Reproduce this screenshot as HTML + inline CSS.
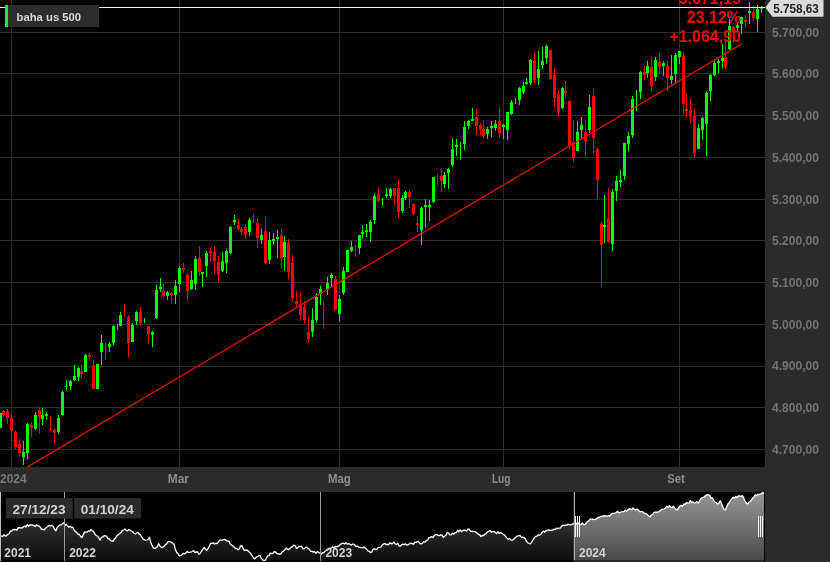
<!DOCTYPE html>
<html lang="it"><head><meta charset="utf-8"><title>baha us 500</title>
<style>html,body{margin:0;padding:0;background:#000;}body{width:830px;height:562px;overflow:hidden;font-family:"Liberation Sans",sans-serif;}svg{display:block;will-change:transform}text{font-family:"Liberation Sans",sans-serif;font-weight:bold}</style>
</head><body>
<svg width="830" height="562" viewBox="0 0 830 562">
<defs>
<linearGradient id="gsel" x1="0" y1="0" x2="0" y2="1"><stop offset="0" stop-color="#969696"/><stop offset="1" stop-color="#484848"/></linearGradient>
<linearGradient id="guns" x1="0" y1="0" x2="0" y2="1"><stop offset="0" stop-color="#4a4a4a"/><stop offset="1" stop-color="#0c0c0c"/></linearGradient>
<clipPath id="cpsel"><rect x="575" y="492" width="189.2" height="68.6"/></clipPath>
<clipPath id="cpuns"><rect x="0" y="492" width="575" height="68.6"/></clipPath>
<clipPath id="cpchart"><rect x="0" y="0" width="765" height="467"/></clipPath>
</defs>
<rect x="0" y="0" width="830" height="562" fill="#000"/>
<g shape-rendering="crispEdges" fill="#2e2e2e">
<rect x="0" y="449" width="765" height="1"/>
<rect x="0" y="407" width="765" height="1"/>
<rect x="0" y="366" width="765" height="1"/>
<rect x="0" y="324" width="765" height="1"/>
<rect x="0" y="282" width="765" height="1"/>
<rect x="0" y="240" width="765" height="1"/>
<rect x="0" y="199" width="765" height="1"/>
<rect x="0" y="157" width="765" height="1"/>
<rect x="0" y="115" width="765" height="1"/>
<rect x="0" y="73" width="765" height="1"/>
<rect x="0" y="32" width="765" height="1"/>
<rect x="11" y="0" width="1" height="467"/>
<rect x="179" y="0" width="1" height="467"/>
<rect x="339" y="0" width="1" height="467"/>
<rect x="503" y="0" width="1" height="467"/>
<rect x="679" y="0" width="1" height="467"/>
</g>
<g shape-rendering="crispEdges" clip-path="url(#cpchart)">
<rect x="0" y="413" width="1" height="15" fill="#00ff00"/>
<rect x="-1" y="413" width="3" height="15" fill="#00ff00"/>
<rect x="3" y="410" width="1" height="7" fill="#ff0000"/>
<rect x="2" y="411" width="3" height="4" fill="#ff0000"/>
<rect x="7" y="409" width="1" height="15" fill="#ff0000"/>
<rect x="6" y="411" width="3" height="7" fill="#ff0000"/>
<rect x="11" y="415" width="1" height="26" fill="#ff0000"/>
<rect x="10" y="418" width="3" height="13" fill="#ff0000"/>
<rect x="15" y="430" width="1" height="19" fill="#ff0000"/>
<rect x="14" y="432" width="3" height="15" fill="#ff0000"/>
<rect x="19" y="439" width="1" height="17" fill="#ff0000"/>
<rect x="18" y="444" width="3" height="9" fill="#ff0000"/>
<rect x="23" y="441" width="1" height="24" fill="#00ff00"/>
<rect x="22" y="452" width="3" height="5" fill="#00ff00"/>
<rect x="27" y="423" width="1" height="36" fill="#00ff00"/>
<rect x="26" y="424" width="3" height="29" fill="#00ff00"/>
<rect x="31" y="422" width="1" height="15" fill="#ff0000"/>
<rect x="30" y="425" width="3" height="3" fill="#ff0000"/>
<rect x="35" y="412" width="1" height="18" fill="#00ff00"/>
<rect x="34" y="415" width="3" height="14" fill="#00ff00"/>
<rect x="39" y="407" width="1" height="27" fill="#ff0000"/>
<rect x="38" y="410" width="3" height="7" fill="#ff0000"/>
<rect x="42" y="408" width="1" height="17" fill="#00ff00"/>
<rect x="41" y="415" width="3" height="4" fill="#00ff00"/>
<rect x="46" y="412" width="1" height="8" fill="#00ff00"/>
<rect x="45" y="414" width="3" height="2" fill="#00ff00"/>
<rect x="50" y="416" width="1" height="15" fill="#ff0000"/>
<rect x="54" y="428" width="1" height="16" fill="#ff0000"/>
<rect x="53" y="430" width="3" height="3" fill="#ff0000"/>
<rect x="58" y="415" width="1" height="19" fill="#00ff00"/>
<rect x="57" y="418" width="3" height="14" fill="#00ff00"/>
<rect x="62" y="391" width="1" height="25" fill="#00ff00"/>
<rect x="61" y="392" width="3" height="23" fill="#00ff00"/>
<rect x="66" y="380" width="1" height="10" fill="#00ff00"/>
<rect x="65" y="386" width="3" height="1" fill="#00ff00" opacity="0.6"/>
<rect x="70" y="380" width="1" height="10" fill="#00ff00"/>
<rect x="69" y="381" width="3" height="5" fill="#00ff00"/>
<rect x="74" y="365" width="1" height="16" fill="#00ff00"/>
<rect x="73" y="376" width="3" height="4" fill="#00ff00"/>
<rect x="78" y="367" width="1" height="14" fill="#00ff00"/>
<rect x="77" y="368" width="3" height="9" fill="#00ff00"/>
<rect x="81" y="364" width="1" height="14" fill="#ff0000"/>
<rect x="80" y="372" width="3" height="2" fill="#ff0000"/>
<rect x="85" y="354" width="1" height="18" fill="#00ff00"/>
<rect x="84" y="355" width="3" height="17" fill="#00ff00"/>
<rect x="89" y="353" width="1" height="8" fill="#ff0000"/>
<rect x="88" y="355" width="3" height="2" fill="#ff0000"/>
<rect x="93" y="360" width="1" height="29" fill="#ff0000"/>
<rect x="92" y="365" width="3" height="24" fill="#ff0000"/>
<rect x="97" y="364" width="1" height="25" fill="#00ff00"/>
<rect x="96" y="364" width="3" height="25" fill="#00ff00"/>
<rect x="101" y="335" width="1" height="30" fill="#00ff00"/>
<rect x="100" y="343" width="3" height="9" fill="#00ff00"/>
<rect x="105" y="343" width="1" height="17" fill="#ff0000"/>
<rect x="104" y="348" width="3" height="1" fill="#ff0000" opacity="0.6"/>
<rect x="109" y="342" width="1" height="10" fill="#00ff00"/>
<rect x="108" y="344" width="3" height="3" fill="#00ff00"/>
<rect x="113" y="325" width="1" height="20" fill="#00ff00"/>
<rect x="112" y="326" width="3" height="17" fill="#00ff00"/>
<rect x="117" y="324" width="1" height="6" fill="#00ff00"/>
<rect x="120" y="312" width="1" height="14" fill="#00ff00"/>
<rect x="119" y="315" width="3" height="11" fill="#00ff00"/>
<rect x="124" y="304" width="1" height="13" fill="#ff0000"/>
<rect x="128" y="315" width="1" height="42" fill="#ff0000"/>
<rect x="127" y="317" width="3" height="26" fill="#ff0000"/>
<rect x="132" y="323" width="1" height="19" fill="#00ff00"/>
<rect x="131" y="325" width="3" height="17" fill="#00ff00"/>
<rect x="136" y="311" width="1" height="14" fill="#00ff00"/>
<rect x="135" y="312" width="3" height="9" fill="#00ff00"/>
<rect x="140" y="307" width="1" height="19" fill="#ff0000"/>
<rect x="139" y="312" width="3" height="11" fill="#ff0000"/>
<rect x="144" y="318" width="1" height="5" fill="#00ff00"/>
<rect x="148" y="326" width="1" height="17" fill="#ff0000"/>
<rect x="147" y="326" width="3" height="8" fill="#ff0000"/>
<rect x="152" y="331" width="1" height="16" fill="#00ff00"/>
<rect x="151" y="332" width="3" height="3" fill="#00ff00"/>
<rect x="156" y="285" width="1" height="34" fill="#00ff00"/>
<rect x="155" y="290" width="3" height="28" fill="#00ff00"/>
<rect x="160" y="278" width="1" height="14" fill="#00ff00"/>
<rect x="159" y="287" width="3" height="2" fill="#00ff00"/>
<rect x="163" y="284" width="1" height="13" fill="#ff0000"/>
<rect x="162" y="291" width="3" height="5" fill="#ff0000"/>
<rect x="167" y="291" width="1" height="9" fill="#00ff00"/>
<rect x="166" y="292" width="3" height="4" fill="#00ff00"/>
<rect x="171" y="292" width="1" height="11" fill="#ff0000"/>
<rect x="170" y="293" width="3" height="2" fill="#ff0000"/>
<rect x="175" y="280" width="1" height="24" fill="#00ff00"/>
<rect x="174" y="286" width="3" height="9" fill="#00ff00"/>
<rect x="179" y="266" width="1" height="26" fill="#00ff00"/>
<rect x="178" y="268" width="3" height="16" fill="#00ff00"/>
<rect x="183" y="263" width="1" height="10" fill="#ff0000"/>
<rect x="182" y="268" width="3" height="2" fill="#ff0000"/>
<rect x="187" y="273" width="1" height="28" fill="#ff0000"/>
<rect x="186" y="275" width="3" height="16" fill="#ff0000"/>
<rect x="191" y="271" width="1" height="19" fill="#00ff00"/>
<rect x="190" y="280" width="3" height="9" fill="#00ff00"/>
<rect x="195" y="256" width="1" height="34" fill="#00ff00"/>
<rect x="194" y="259" width="3" height="25" fill="#00ff00"/>
<rect x="199" y="246" width="1" height="30" fill="#ff0000"/>
<rect x="198" y="258" width="3" height="14" fill="#ff0000"/>
<rect x="202" y="272" width="1" height="15" fill="#00ff00"/>
<rect x="201" y="272" width="3" height="2" fill="#00ff00"/>
<rect x="206" y="251" width="1" height="26" fill="#00ff00"/>
<rect x="205" y="253" width="3" height="13" fill="#00ff00"/>
<rect x="210" y="248" width="1" height="14" fill="#ff0000"/>
<rect x="209" y="251" width="3" height="2" fill="#ff0000"/>
<rect x="214" y="246" width="1" height="28" fill="#ff0000"/>
<rect x="213" y="252" width="3" height="9" fill="#ff0000"/>
<rect x="218" y="256" width="1" height="26" fill="#ff0000"/>
<rect x="217" y="262" width="3" height="13" fill="#ff0000"/>
<rect x="222" y="252" width="1" height="20" fill="#00ff00"/>
<rect x="221" y="261" width="3" height="10" fill="#00ff00"/>
<rect x="226" y="249" width="1" height="24" fill="#00ff00"/>
<rect x="225" y="251" width="3" height="12" fill="#00ff00"/>
<rect x="230" y="226" width="1" height="28" fill="#00ff00"/>
<rect x="229" y="227" width="3" height="26" fill="#00ff00"/>
<rect x="234" y="215" width="1" height="10" fill="#00ff00"/>
<rect x="233" y="220" width="3" height="2" fill="#00ff00"/>
<rect x="238" y="219" width="1" height="11" fill="#ff0000"/>
<rect x="237" y="225" width="3" height="4" fill="#ff0000"/>
<rect x="241" y="227" width="1" height="9" fill="#ff0000"/>
<rect x="240" y="229" width="3" height="3" fill="#ff0000"/>
<rect x="245" y="224" width="1" height="15" fill="#ff0000"/>
<rect x="244" y="227" width="3" height="8" fill="#ff0000"/>
<rect x="249" y="218" width="1" height="18" fill="#00ff00"/>
<rect x="248" y="220" width="3" height="12" fill="#00ff00"/>
<rect x="253" y="214" width="1" height="9" fill="#ff0000"/>
<rect x="257" y="218" width="1" height="30" fill="#ff0000"/>
<rect x="256" y="223" width="3" height="15" fill="#ff0000"/>
<rect x="261" y="229" width="1" height="15" fill="#00ff00"/>
<rect x="260" y="235" width="3" height="5" fill="#00ff00"/>
<rect x="265" y="217" width="1" height="47" fill="#ff0000"/>
<rect x="264" y="231" width="3" height="32" fill="#ff0000"/>
<rect x="269" y="232" width="1" height="32" fill="#00ff00"/>
<rect x="268" y="240" width="3" height="20" fill="#00ff00"/>
<rect x="273" y="233" width="1" height="12" fill="#00ff00"/>
<rect x="272" y="239" width="3" height="2" fill="#00ff00"/>
<rect x="277" y="230" width="1" height="28" fill="#00ff00"/>
<rect x="276" y="237" width="3" height="2" fill="#00ff00"/>
<rect x="281" y="229" width="1" height="40" fill="#ff0000"/>
<rect x="280" y="235" width="3" height="23" fill="#ff0000"/>
<rect x="284" y="236" width="1" height="35" fill="#00ff00"/>
<rect x="283" y="242" width="3" height="15" fill="#00ff00"/>
<rect x="288" y="239" width="1" height="40" fill="#ff0000"/>
<rect x="287" y="243" width="3" height="29" fill="#ff0000"/>
<rect x="292" y="255" width="1" height="47" fill="#ff0000"/>
<rect x="291" y="263" width="3" height="35" fill="#ff0000"/>
<rect x="296" y="291" width="1" height="16" fill="#ff0000"/>
<rect x="295" y="301" width="3" height="3" fill="#ff0000"/>
<rect x="300" y="292" width="1" height="29" fill="#ff0000"/>
<rect x="299" y="304" width="3" height="11" fill="#ff0000"/>
<rect x="304" y="301" width="1" height="23" fill="#ff0000"/>
<rect x="303" y="307" width="3" height="13" fill="#ff0000"/>
<rect x="308" y="316" width="1" height="27" fill="#ff0000"/>
<rect x="307" y="332" width="3" height="7" fill="#ff0000"/>
<rect x="312" y="308" width="1" height="29" fill="#00ff00"/>
<rect x="311" y="320" width="3" height="12" fill="#00ff00"/>
<rect x="316" y="293" width="1" height="30" fill="#00ff00"/>
<rect x="315" y="297" width="3" height="23" fill="#00ff00"/>
<rect x="320" y="286" width="1" height="19" fill="#00ff00"/>
<rect x="319" y="289" width="3" height="5" fill="#00ff00"/>
<rect x="323" y="301" width="1" height="28" fill="#ff0000"/>
<rect x="327" y="277" width="1" height="18" fill="#00ff00"/>
<rect x="326" y="283" width="3" height="7" fill="#00ff00"/>
<rect x="331" y="273" width="1" height="14" fill="#00ff00"/>
<rect x="330" y="275" width="3" height="3" fill="#00ff00"/>
<rect x="335" y="276" width="1" height="34" fill="#ff0000"/>
<rect x="334" y="279" width="3" height="31" fill="#ff0000"/>
<rect x="339" y="295" width="1" height="26" fill="#00ff00"/>
<rect x="338" y="299" width="3" height="15" fill="#00ff00"/>
<rect x="343" y="267" width="1" height="28" fill="#00ff00"/>
<rect x="342" y="271" width="3" height="22" fill="#00ff00"/>
<rect x="347" y="250" width="1" height="22" fill="#00ff00"/>
<rect x="346" y="250" width="3" height="22" fill="#00ff00"/>
<rect x="351" y="241" width="1" height="11" fill="#00ff00"/>
<rect x="350" y="247" width="3" height="4" fill="#00ff00"/>
<rect x="355" y="245" width="1" height="12" fill="#ff0000"/>
<rect x="359" y="235" width="1" height="19" fill="#00ff00"/>
<rect x="358" y="235" width="3" height="13" fill="#00ff00"/>
<rect x="362" y="225" width="1" height="13" fill="#00ff00"/>
<rect x="361" y="232" width="3" height="2" fill="#00ff00"/>
<rect x="366" y="224" width="1" height="13" fill="#00ff00"/>
<rect x="365" y="230" width="3" height="2" fill="#00ff00"/>
<rect x="370" y="220" width="1" height="22" fill="#00ff00"/>
<rect x="369" y="222" width="3" height="10" fill="#00ff00"/>
<rect x="374" y="194" width="1" height="30" fill="#00ff00"/>
<rect x="373" y="196" width="3" height="24" fill="#00ff00"/>
<rect x="378" y="189" width="1" height="13" fill="#ff0000"/>
<rect x="377" y="194" width="3" height="7" fill="#ff0000"/>
<rect x="382" y="198" width="1" height="8" fill="#00ff00"/>
<rect x="381" y="199" width="3" height="1" fill="#00ff00" opacity="0.6"/>
<rect x="386" y="188" width="1" height="10" fill="#00ff00"/>
<rect x="385" y="194" width="3" height="2" fill="#00ff00"/>
<rect x="390" y="188" width="1" height="10" fill="#00ff00"/>
<rect x="389" y="189" width="3" height="7" fill="#00ff00"/>
<rect x="394" y="188" width="1" height="18" fill="#ff0000"/>
<rect x="393" y="188" width="3" height="8" fill="#ff0000"/>
<rect x="398" y="179" width="1" height="39" fill="#ff0000"/>
<rect x="397" y="188" width="3" height="24" fill="#ff0000"/>
<rect x="402" y="195" width="1" height="18" fill="#00ff00"/>
<rect x="401" y="198" width="3" height="13" fill="#00ff00"/>
<rect x="405" y="191" width="1" height="9" fill="#00ff00"/>
<rect x="404" y="192" width="3" height="6" fill="#00ff00"/>
<rect x="409" y="190" width="1" height="18" fill="#ff0000"/>
<rect x="408" y="192" width="3" height="5" fill="#ff0000"/>
<rect x="413" y="203" width="1" height="12" fill="#ff0000"/>
<rect x="412" y="204" width="3" height="10" fill="#ff0000"/>
<rect x="417" y="216" width="1" height="16" fill="#ff0000"/>
<rect x="416" y="223" width="3" height="2" fill="#ff0000"/>
<rect x="421" y="207" width="1" height="38" fill="#00ff00"/>
<rect x="420" y="208" width="3" height="22" fill="#00ff00"/>
<rect x="425" y="199" width="1" height="29" fill="#00ff00"/>
<rect x="424" y="205" width="3" height="2" fill="#00ff00"/>
<rect x="429" y="200" width="1" height="21" fill="#00ff00"/>
<rect x="428" y="205" width="3" height="2" fill="#00ff00"/>
<rect x="433" y="177" width="1" height="26" fill="#00ff00"/>
<rect x="432" y="177" width="3" height="25" fill="#00ff00"/>
<rect x="437" y="174" width="1" height="11" fill="#ff0000"/>
<rect x="441" y="168" width="1" height="24" fill="#ff0000"/>
<rect x="440" y="176" width="3" height="5" fill="#ff0000"/>
<rect x="444" y="172" width="1" height="16" fill="#00ff00"/>
<rect x="443" y="175" width="3" height="9" fill="#00ff00"/>
<rect x="448" y="168" width="1" height="21" fill="#00ff00"/>
<rect x="447" y="169" width="3" height="4" fill="#00ff00"/>
<rect x="452" y="138" width="1" height="29" fill="#00ff00"/>
<rect x="451" y="149" width="3" height="16" fill="#00ff00"/>
<rect x="456" y="139" width="1" height="17" fill="#00ff00"/>
<rect x="455" y="145" width="3" height="2" fill="#00ff00"/>
<rect x="460" y="142" width="1" height="18" fill="#00ff00"/>
<rect x="464" y="121" width="1" height="29" fill="#00ff00"/>
<rect x="463" y="127" width="3" height="17" fill="#00ff00"/>
<rect x="468" y="120" width="1" height="9" fill="#00ff00"/>
<rect x="467" y="121" width="3" height="5" fill="#00ff00"/>
<rect x="472" y="108" width="1" height="13" fill="#00ff00"/>
<rect x="471" y="119" width="3" height="2" fill="#00ff00"/>
<rect x="476" y="109" width="1" height="26" fill="#ff0000"/>
<rect x="475" y="117" width="3" height="9" fill="#ff0000"/>
<rect x="480" y="123" width="1" height="12" fill="#ff0000"/>
<rect x="479" y="125" width="3" height="4" fill="#ff0000"/>
<rect x="483" y="120" width="1" height="18" fill="#ff0000"/>
<rect x="482" y="129" width="3" height="7" fill="#ff0000"/>
<rect x="487" y="127" width="1" height="12" fill="#00ff00"/>
<rect x="486" y="129" width="3" height="5" fill="#00ff00"/>
<rect x="491" y="121" width="1" height="16" fill="#00ff00"/>
<rect x="490" y="126" width="3" height="2" fill="#00ff00"/>
<rect x="495" y="120" width="1" height="11" fill="#00ff00"/>
<rect x="494" y="124" width="3" height="4" fill="#00ff00"/>
<rect x="499" y="107" width="1" height="31" fill="#ff0000"/>
<rect x="498" y="121" width="3" height="12" fill="#ff0000"/>
<rect x="503" y="124" width="1" height="15" fill="#00ff00"/>
<rect x="502" y="125" width="3" height="2" fill="#00ff00"/>
<rect x="507" y="112" width="1" height="28" fill="#00ff00"/>
<rect x="506" y="112" width="3" height="18" fill="#00ff00"/>
<rect x="511" y="100" width="1" height="15" fill="#00ff00"/>
<rect x="510" y="102" width="3" height="12" fill="#00ff00"/>
<rect x="515" y="98" width="1" height="6" fill="#00ff00"/>
<rect x="519" y="87" width="1" height="18" fill="#00ff00"/>
<rect x="518" y="88" width="3" height="12" fill="#00ff00"/>
<rect x="523" y="82" width="1" height="12" fill="#00ff00"/>
<rect x="522" y="86" width="3" height="6" fill="#00ff00"/>
<rect x="526" y="78" width="1" height="7" fill="#00ff00"/>
<rect x="525" y="82" width="3" height="2" fill="#00ff00"/>
<rect x="530" y="59" width="1" height="26" fill="#00ff00"/>
<rect x="529" y="60" width="3" height="23" fill="#00ff00"/>
<rect x="534" y="52" width="1" height="31" fill="#ff0000"/>
<rect x="533" y="61" width="3" height="19" fill="#ff0000"/>
<rect x="538" y="51" width="1" height="34" fill="#00ff00"/>
<rect x="537" y="69" width="3" height="9" fill="#00ff00"/>
<rect x="542" y="47" width="1" height="22" fill="#00ff00"/>
<rect x="541" y="61" width="3" height="4" fill="#00ff00"/>
<rect x="546" y="45" width="1" height="19" fill="#00ff00"/>
<rect x="545" y="46" width="3" height="12" fill="#00ff00"/>
<rect x="550" y="50" width="1" height="30" fill="#ff0000"/>
<rect x="549" y="50" width="3" height="29" fill="#ff0000"/>
<rect x="554" y="68" width="1" height="39" fill="#ff0000"/>
<rect x="553" y="75" width="3" height="23" fill="#ff0000"/>
<rect x="558" y="90" width="1" height="27" fill="#ff0000"/>
<rect x="557" y="94" width="3" height="18" fill="#ff0000"/>
<rect x="562" y="87" width="1" height="22" fill="#00ff00"/>
<rect x="561" y="88" width="3" height="20" fill="#00ff00"/>
<rect x="565" y="81" width="1" height="17" fill="#ff0000"/>
<rect x="564" y="91" width="3" height="2" fill="#ff0000"/>
<rect x="569" y="101" width="1" height="48" fill="#ff0000"/>
<rect x="568" y="101" width="3" height="45" fill="#ff0000"/>
<rect x="573" y="120" width="1" height="42" fill="#ff0000"/>
<rect x="572" y="143" width="3" height="15" fill="#ff0000"/>
<rect x="577" y="121" width="1" height="30" fill="#00ff00"/>
<rect x="576" y="132" width="3" height="19" fill="#00ff00"/>
<rect x="581" y="117" width="1" height="21" fill="#00ff00"/>
<rect x="580" y="125" width="3" height="5" fill="#00ff00"/>
<rect x="585" y="120" width="1" height="37" fill="#ff0000"/>
<rect x="584" y="132" width="3" height="10" fill="#ff0000"/>
<rect x="589" y="95" width="1" height="38" fill="#00ff00"/>
<rect x="588" y="107" width="3" height="23" fill="#00ff00"/>
<rect x="593" y="89" width="1" height="65" fill="#ff0000"/>
<rect x="592" y="96" width="3" height="42" fill="#ff0000"/>
<rect x="597" y="148" width="1" height="51" fill="#ff0000"/>
<rect x="596" y="149" width="3" height="31" fill="#ff0000"/>
<rect x="601" y="222" width="1" height="65" fill="#ff0000"/>
<rect x="600" y="224" width="3" height="21" fill="#ff0000"/>
<rect x="604" y="195" width="1" height="48" fill="#00ff00"/>
<rect x="603" y="225" width="3" height="2" fill="#00ff00"/>
<rect x="608" y="188" width="1" height="55" fill="#ff0000"/>
<rect x="607" y="218" width="3" height="24" fill="#ff0000"/>
<rect x="612" y="189" width="1" height="62" fill="#00ff00"/>
<rect x="611" y="192" width="3" height="52" fill="#00ff00"/>
<rect x="616" y="176" width="1" height="25" fill="#00ff00"/>
<rect x="615" y="181" width="3" height="10" fill="#00ff00"/>
<rect x="620" y="170" width="1" height="17" fill="#00ff00"/>
<rect x="619" y="180" width="3" height="2" fill="#00ff00"/>
<rect x="624" y="143" width="1" height="37" fill="#00ff00"/>
<rect x="623" y="143" width="3" height="33" fill="#00ff00"/>
<rect x="628" y="132" width="1" height="19" fill="#00ff00"/>
<rect x="627" y="136" width="3" height="8" fill="#00ff00"/>
<rect x="632" y="96" width="1" height="42" fill="#00ff00"/>
<rect x="631" y="99" width="3" height="36" fill="#00ff00"/>
<rect x="636" y="90" width="1" height="21" fill="#00ff00"/>
<rect x="640" y="71" width="1" height="28" fill="#00ff00"/>
<rect x="639" y="72" width="3" height="20" fill="#00ff00"/>
<rect x="644" y="66" width="1" height="14" fill="#ff0000"/>
<rect x="643" y="72" width="3" height="3" fill="#ff0000"/>
<rect x="647" y="61" width="1" height="17" fill="#00ff00"/>
<rect x="646" y="66" width="3" height="7" fill="#00ff00"/>
<rect x="651" y="57" width="1" height="34" fill="#ff0000"/>
<rect x="650" y="67" width="3" height="19" fill="#ff0000"/>
<rect x="655" y="57" width="1" height="24" fill="#00ff00"/>
<rect x="654" y="60" width="3" height="17" fill="#00ff00"/>
<rect x="659" y="53" width="1" height="21" fill="#ff0000"/>
<rect x="658" y="62" width="3" height="5" fill="#ff0000"/>
<rect x="663" y="61" width="1" height="15" fill="#00ff00"/>
<rect x="662" y="63" width="3" height="3" fill="#00ff00"/>
<rect x="667" y="61" width="1" height="30" fill="#ff0000"/>
<rect x="666" y="66" width="3" height="12" fill="#ff0000"/>
<rect x="671" y="55" width="1" height="29" fill="#00ff00"/>
<rect x="670" y="76" width="3" height="4" fill="#00ff00"/>
<rect x="675" y="53" width="1" height="30" fill="#00ff00"/>
<rect x="674" y="55" width="3" height="19" fill="#00ff00"/>
<rect x="679" y="51" width="1" height="13" fill="#00ff00"/>
<rect x="678" y="51" width="3" height="6" fill="#00ff00"/>
<rect x="683" y="52" width="1" height="62" fill="#ff0000"/>
<rect x="682" y="56" width="3" height="48" fill="#ff0000"/>
<rect x="686" y="94" width="1" height="24" fill="#ff0000"/>
<rect x="685" y="109" width="3" height="2" fill="#ff0000"/>
<rect x="690" y="98" width="1" height="26" fill="#ff0000"/>
<rect x="689" y="110" width="3" height="5" fill="#ff0000"/>
<rect x="694" y="108" width="1" height="49" fill="#ff0000"/>
<rect x="693" y="116" width="3" height="37" fill="#ff0000"/>
<rect x="698" y="124" width="1" height="25" fill="#00ff00"/>
<rect x="697" y="128" width="3" height="21" fill="#00ff00"/>
<rect x="702" y="117" width="1" height="23" fill="#00ff00"/>
<rect x="701" y="118" width="3" height="12" fill="#00ff00"/>
<rect x="706" y="91" width="1" height="65" fill="#00ff00"/>
<rect x="705" y="93" width="3" height="31" fill="#00ff00"/>
<rect x="710" y="74" width="1" height="27" fill="#00ff00"/>
<rect x="709" y="75" width="3" height="16" fill="#00ff00"/>
<rect x="714" y="60" width="1" height="16" fill="#00ff00"/>
<rect x="713" y="63" width="3" height="12" fill="#00ff00"/>
<rect x="718" y="59" width="1" height="14" fill="#00ff00"/>
<rect x="717" y="61" width="3" height="2" fill="#00ff00"/>
<rect x="722" y="44" width="1" height="24" fill="#00ff00"/>
<rect x="721" y="58" width="3" height="3" fill="#00ff00"/>
<rect x="725" y="40" width="1" height="29" fill="#ff0000"/>
<rect x="724" y="57" width="3" height="10" fill="#ff0000"/>
<rect x="729" y="19" width="1" height="31" fill="#00ff00"/>
<rect x="728" y="26" width="3" height="23" fill="#00ff00"/>
<rect x="733" y="26" width="1" height="17" fill="#ff0000"/>
<rect x="732" y="27" width="3" height="5" fill="#ff0000"/>
<rect x="737" y="23" width="1" height="9" fill="#00ff00"/>
<rect x="736" y="25" width="3" height="3" fill="#00ff00"/>
<rect x="741" y="17" width="1" height="17" fill="#00ff00"/>
<rect x="740" y="17" width="3" height="7" fill="#00ff00"/>
<rect x="745" y="15" width="1" height="12" fill="#ff0000"/>
<rect x="744" y="20" width="3" height="2" fill="#ff0000"/>
<rect x="749" y="2" width="1" height="22" fill="#00ff00"/>
<rect x="748" y="11" width="3" height="2" fill="#00ff00"/>
<rect x="753" y="6" width="1" height="15" fill="#ff0000"/>
<rect x="752" y="12" width="3" height="6" fill="#ff0000"/>
<rect x="757" y="5" width="1" height="27" fill="#00ff00"/>
<rect x="756" y="9" width="3" height="10" fill="#00ff00"/>
<rect x="761" y="6" width="1" height="7" fill="#00ff00"/>
<rect x="760" y="8" width="3" height="1" fill="#00ff00" opacity="0.6"/>
</g>
<line x1="27.4" y1="467" x2="741.6" y2="44" stroke="#ff0000" stroke-width="1.2" clip-path="url(#cpchart)"/>
<g fill="#ff0000" font-size="16px" text-anchor="end">
<text x="741" y="3.7">5.671,15</text>
<text x="741" y="22.9">23,12%</text>
<text x="741" y="42.3">+1.064,90</text>
</g>
<rect x="0" y="7" width="765" height="1" fill="#f2f2f2" shape-rendering="crispEdges"/>
<rect x="5" y="5" width="94" height="22" fill="#2d2d2d" shape-rendering="crispEdges"/>
<rect x="5" y="5" width="3" height="22" fill="#00ff00" shape-rendering="crispEdges"/>
<text x="16.6" y="20.9" font-size="11.6px" fill="#d6d6d6" textLength="64.5" lengthAdjust="spacingAndGlyphs">baha us 500</text>
<rect x="765" y="0" width="65" height="562" fill="#2b2b2b" shape-rendering="crispEdges"/>
<g font-size="12px" fill="#737373">
<text x="772" y="36.6" textLength="47" lengthAdjust="spacingAndGlyphs">5.700,00</text>
<text x="772" y="78.3" textLength="47" lengthAdjust="spacingAndGlyphs">5.600,00</text>
<text x="772" y="120.1" textLength="47" lengthAdjust="spacingAndGlyphs">5.500,00</text>
<text x="772" y="161.8" textLength="47" lengthAdjust="spacingAndGlyphs">5.400,00</text>
<text x="772" y="203.5" textLength="47" lengthAdjust="spacingAndGlyphs">5.300,00</text>
<text x="772" y="245.2" textLength="47" lengthAdjust="spacingAndGlyphs">5.200,00</text>
<text x="772" y="287.0" textLength="47" lengthAdjust="spacingAndGlyphs">5.100,00</text>
<text x="772" y="328.7" textLength="47" lengthAdjust="spacingAndGlyphs">5.000,00</text>
<text x="772" y="370.4" textLength="47" lengthAdjust="spacingAndGlyphs">4.900,00</text>
<text x="772" y="412.2" textLength="47" lengthAdjust="spacingAndGlyphs">4.800,00</text>
<text x="772" y="453.9" textLength="47" lengthAdjust="spacingAndGlyphs">4.700,00</text>
</g>
<polygon points="765.3,7.5 772.5,-2 823.5,-2 823.5,16.8 772.5,16.8" fill="#dadada"/>
<text x="773.3" y="12.9" font-size="12px" fill="#1e1e1e" textLength="45.5" lengthAdjust="spacingAndGlyphs">5.758,63</text>
<rect x="0" y="467" width="765" height="25" fill="#2b2b2b" shape-rendering="crispEdges"/>
<g font-size="12px" fill="#8e8e8e">
<text x="0" y="482.7" fill="#787878">2024</text>
<text x="167.8" y="482.7" textLength="21.2" lengthAdjust="spacingAndGlyphs">Mar</text>
<text x="327.9" y="482.7" textLength="22.9" lengthAdjust="spacingAndGlyphs">Mag</text>
<text x="491.9" y="482.7" textLength="18.6" lengthAdjust="spacingAndGlyphs">Lug</text>
<text x="667.2" y="482.7" textLength="17.5" lengthAdjust="spacingAndGlyphs">Set</text>
</g>
<path d="M0.0,537.0 L1.3,536.0 L2.6,536.5 L3.9,534.8 L5.2,536.0 L6.5,535.8 L7.8,534.4 L9.1,533.7 L10.4,530.9 L11.7,531.0 L13.0,529.7 L14.3,529.3 L15.6,529.7 L16.9,530.2 L18.2,527.9 L19.5,527.6 L20.8,527.9 L22.1,528.0 L23.4,526.7 L24.7,526.0 L26.0,527.0 L27.3,524.6 L28.6,526.2 L29.9,525.0 L31.2,524.9 L32.5,525.0 L33.8,525.6 L35.1,526.6 L36.4,524.9 L37.7,525.6 L39.0,526.1 L40.3,527.3 L41.6,529.3 L42.9,529.4 L44.2,529.9 L45.5,528.2 L46.8,527.3 L48.1,526.1 L49.4,525.5 L50.7,525.8 L52.0,525.4 L53.3,526.6 L54.6,529.3 L55.9,530.7 L57.2,527.6 L58.5,526.3 L59.8,524.9 L61.1,524.9 L62.4,523.8 L63.7,522.8 L65.0,525.4 L66.3,524.3 L67.6,525.9 L68.9,527.2 L70.2,526.3 L71.5,527.5 L72.8,527.2 L74.1,530.0 L75.4,531.5 L76.7,532.4 L78.0,534.4 L79.3,534.4 L80.6,536.5 L81.9,537.6 L83.2,534.9 L84.5,531.9 L85.8,532.1 L87.1,532.1 L88.4,530.9 L89.7,531.1 L91.0,529.5 L92.3,530.7 L93.6,531.6 L94.9,534.1 L96.2,535.5 L97.5,536.0 L98.8,537.9 L100.1,540.1 L101.4,537.3 L102.7,537.0 L104.0,535.6 L105.3,535.9 L106.6,536.2 L107.9,538.8 L109.2,538.8 L110.5,540.6 L111.8,540.8 L113.1,541.3 L114.4,538.9 L115.7,537.7 L117.0,535.7 L118.3,534.5 L119.6,533.5 L120.9,532.8 L122.2,530.6 L123.5,530.0 L124.8,529.0 L126.1,530.2 L127.4,530.9 L128.7,529.5 L130.0,530.1 L131.3,531.0 L132.6,531.8 L133.9,533.2 L135.2,534.0 L136.5,533.0 L137.8,532.3 L139.1,533.7 L140.4,535.0 L141.7,537.0 L143.0,539.1 L144.3,539.6 L145.6,540.4 L146.9,540.0 L148.2,539.3 L149.5,537.3 L150.8,542.5 L152.1,545.4 L153.4,548.0 L154.7,548.3 L156.0,547.8 L157.3,546.7 L158.6,543.7 L159.9,545.9 L161.2,547.1 L162.5,547.7 L163.8,546.6 L165.1,545.0 L166.4,544.1 L167.7,542.2 L169.0,541.2 L170.3,542.0 L171.6,542.3 L172.9,543.4 L174.2,544.6 L175.5,549.9 L176.8,552.6 L178.1,553.8 L179.4,556.0 L180.7,555.5 L182.0,554.7 L183.3,553.3 L184.6,553.8 L185.9,552.9 L187.2,551.4 L188.5,552.4 L189.8,552.4 L191.1,551.9 L192.4,551.5 L193.7,550.6 L195.0,552.6 L196.3,551.8 L197.6,552.0 L198.9,554.3 L200.2,553.5 L201.5,551.2 L202.8,549.4 L204.1,547.4 L205.4,549.0 L206.7,550.4 L208.0,548.6 L209.3,546.2 L210.6,543.3 L211.9,543.4 L213.2,542.8 L214.5,544.0 L215.8,543.2 L217.1,543.6 L218.4,541.8 L219.7,540.2 L221.0,540.1 L222.3,540.1 L223.6,539.6 L224.9,539.3 L226.2,540.4 L227.5,541.2 L228.8,541.1 L230.1,543.6 L231.4,545.0 L232.7,545.6 L234.0,547.0 L235.3,548.3 L236.6,548.5 L237.9,549.8 L239.2,549.1 L240.5,546.2 L241.8,545.6 L243.1,548.3 L244.4,550.5 L245.7,549.8 L247.0,550.1 L248.3,551.0 L249.6,552.4 L250.9,553.8 L252.2,556.0 L253.5,557.9 L254.8,558.9 L256.1,557.4 L257.4,556.6 L258.7,555.7 L260.0,555.6 L261.3,558.4 L262.6,559.8 L263.9,560.4 L265.2,560.3 L266.5,558.0 L267.8,555.7 L269.1,555.6 L270.4,553.1 L271.7,553.5 L273.0,553.4 L274.3,551.7 L275.6,552.0 L276.9,553.6 L278.2,554.0 L279.5,553.9 L280.8,554.0 L282.1,551.8 L283.4,551.3 L284.7,549.9 L286.0,548.0 L287.3,549.3 L288.6,549.5 L289.9,548.6 L291.2,547.1 L292.5,546.6 L293.8,545.1 L295.1,545.5 L296.4,548.4 L297.7,547.8 L299.0,546.5 L300.3,546.4 L301.6,546.3 L302.9,548.7 L304.2,548.9 L305.5,547.3 L306.8,547.2 L308.1,548.4 L309.4,549.5 L310.7,551.4 L312.0,551.2 L313.3,552.1 L314.6,551.7 L315.9,553.2 L317.2,551.7 L318.5,552.2 L319.8,553.0 L321.1,554.3 L322.4,552.6 L323.7,552.9 L325.0,551.1 L326.3,550.5 L327.6,549.9 L328.9,548.2 L330.2,548.7 L331.5,547.7 L332.8,546.9 L334.1,548.3 L335.4,546.4 L336.7,546.5 L338.0,546.5 L339.3,545.5 L340.6,544.1 L341.9,543.7 L343.2,543.1 L344.5,544.0 L345.8,542.8 L347.1,544.1 L348.4,543.7 L349.7,544.0 L351.0,545.1 L352.3,544.2 L353.6,544.1 L354.9,545.2 L356.2,546.4 L357.5,546.2 L358.8,547.1 L360.1,547.4 L361.4,547.7 L362.7,547.8 L364.0,546.9 L365.3,548.1 L366.6,549.0 L367.9,551.0 L369.2,551.3 L370.5,552.6 L371.8,551.9 L373.1,549.2 L374.4,548.8 L375.7,549.5 L377.0,549.1 L378.3,547.4 L379.6,547.3 L380.9,547.2 L382.2,545.0 L383.5,544.1 L384.8,543.4 L386.1,544.5 L387.4,544.5 L388.7,544.6 L390.0,542.7 L391.3,543.8 L392.6,543.5 L393.9,542.2 L395.2,544.0 L396.5,544.5 L397.8,543.2 L399.1,545.9 L400.4,546.0 L401.7,544.6 L403.0,544.1 L404.3,544.6 L405.6,543.9 L406.9,545.0 L408.2,544.7 L409.5,543.8 L410.8,543.2 L412.1,543.5 L413.4,544.4 L414.7,542.1 L416.0,542.5 L417.3,541.4 L418.6,541.6 L419.9,543.5 L421.2,543.8 L422.5,543.2 L423.8,541.5 L425.1,542.2 L426.4,540.4 L427.7,540.0 L429.0,537.6 L430.3,537.6 L431.6,536.5 L432.9,537.5 L434.2,535.7 L435.5,534.7 L436.8,534.6 L438.1,535.4 L439.4,535.7 L440.7,534.9 L442.0,535.1 L443.3,537.4 L444.6,536.2 L445.9,535.3 L447.2,532.6 L448.5,532.8 L449.8,534.8 L451.1,534.8 L452.4,533.1 L453.7,534.3 L455.0,532.8 L456.3,532.5 L457.6,530.3 L458.9,531.7 L460.2,529.9 L461.5,531.7 L462.8,530.6 L464.1,530.1 L465.4,530.3 L466.7,530.8 L468.0,528.9 L469.3,529.4 L470.6,531.3 L471.9,531.4 L473.2,531.3 L474.5,531.7 L475.8,532.0 L477.1,533.2 L478.4,534.3 L479.7,534.9 L481.0,536.5 L482.3,535.5 L483.6,535.5 L484.9,534.2 L486.2,533.4 L487.5,531.6 L488.8,531.3 L490.1,530.5 L491.4,532.0 L492.7,531.7 L494.0,531.3 L495.3,532.4 L496.6,533.6 L497.9,531.7 L499.2,533.3 L500.5,532.7 L501.8,533.1 L503.1,534.3 L504.4,534.8 L505.7,536.5 L507.0,538.1 L508.3,539.4 L509.6,538.5 L510.9,540.1 L512.2,540.2 L513.5,539.4 L514.8,538.0 L516.1,537.0 L517.4,536.0 L518.7,535.7 L520.0,535.3 L521.3,537.5 L522.6,537.1 L523.9,537.7 L525.2,538.6 L526.5,541.4 L527.8,542.7 L529.1,543.5 L530.4,543.9 L531.7,542.0 L533.0,539.8 L534.3,537.9 L535.6,536.4 L536.9,536.2 L538.2,534.8 L539.5,535.3 L540.8,534.2 L542.1,532.4 L543.4,531.1 L544.7,532.2 L546.0,530.5 L547.3,530.6 L548.6,529.8 L549.9,530.4 L551.2,530.4 L552.5,530.2 L553.8,529.2 L555.1,529.6 L556.4,528.2 L557.7,528.7 L559.0,528.1 L560.3,528.1 L561.6,526.3 L562.9,525.2 L564.2,525.6 L565.5,525.1 L566.8,525.1 L568.1,524.2 L569.4,524.9 L570.7,524.9 L572.0,524.4 L573.3,523.8 L574.6,522.8 L575.9,522.9 L577.2,524.6 L578.5,522.9 L579.8,524.5 L581.1,524.4 L582.4,522.9 L583.7,524.6 L585.0,524.6 L586.3,522.9 L587.6,521.4 L588.9,520.9 L590.2,518.9 L591.5,519.4 L592.8,519.1 L594.1,519.7 L595.4,519.3 L596.7,518.6 L598.0,517.4 L599.3,517.5 L600.6,516.4 L601.9,516.4 L603.2,515.8 L604.5,515.7 L605.8,515.9 L607.1,516.3 L608.4,515.5 L609.7,516.1 L611.0,514.3 L612.3,513.5 L613.6,513.3 L614.9,513.2 L616.2,512.5 L617.5,511.2 L618.8,512.8 L620.1,512.5 L621.4,511.8 L622.7,511.7 L624.0,511.7 L625.3,510.1 L626.6,511.4 L627.9,509.8 L629.2,509.0 L630.5,509.0 L631.8,509.7 L633.1,508.0 L634.4,509.2 L635.7,510.0 L637.0,509.1 L638.3,509.9 L639.6,511.5 L640.9,511.7 L642.2,511.6 L643.5,512.4 L644.8,513.6 L646.1,513.4 L647.4,514.6 L648.7,515.9 L650.0,516.9 L651.3,514.9 L652.6,514.5 L653.9,512.5 L655.2,512.1 L656.5,512.1 L657.8,512.2 L659.1,511.4 L660.4,510.5 L661.7,509.3 L663.0,509.5 L664.3,508.8 L665.6,507.9 L666.9,506.3 L668.2,507.5 L669.5,505.7 L670.8,507.2 L672.1,507.6 L673.4,506.1 L674.7,507.8 L676.0,509.4 L677.3,510.0 L678.6,507.7 L679.9,506.2 L681.2,505.2 L682.5,506.3 L683.8,504.0 L685.1,504.3 L686.4,502.7 L687.7,503.0 L689.0,503.2 L690.3,500.7 L691.6,502.5 L692.9,501.9 L694.2,503.0 L695.5,502.7 L696.8,501.6 L698.1,503.1 L699.4,501.1 L700.7,498.9 L702.0,497.6 L703.3,497.6 L704.6,496.4 L705.9,495.3 L707.2,494.6 L708.5,494.9 L709.8,495.4 L711.1,498.2 L712.4,497.9 L713.7,500.4 L715.0,502.1 L716.3,502.6 L717.6,504.1 L718.9,503.0 L720.2,500.8 L721.5,503.4 L722.8,506.8 L724.1,509.6 L725.4,509.9 L726.7,506.8 L728.0,504.0 L729.3,502.3 L730.6,500.3 L731.9,498.4 L733.2,497.2 L734.5,498.2 L735.8,496.5 L737.1,497.5 L738.4,495.8 L739.7,495.9 L741.0,496.4 L742.3,495.7 L743.6,497.7 L744.9,500.9 L746.2,502.7 L747.5,504.1 L748.8,502.3 L750.1,501.5 L751.4,500.2 L752.7,498.0 L754.0,497.0 L755.3,494.7 L756.6,495.5 L757.9,494.3 L759.2,494.4 L760.5,494.1 L761.8,493.2 L763.1,492.6 L764.0,493.6 L764,562 L0,562 Z" fill="url(#guns)" clip-path="url(#cpuns)"/>
<path d="M0.0,537.0 L1.3,536.0 L2.6,536.5 L3.9,534.8 L5.2,536.0 L6.5,535.8 L7.8,534.4 L9.1,533.7 L10.4,530.9 L11.7,531.0 L13.0,529.7 L14.3,529.3 L15.6,529.7 L16.9,530.2 L18.2,527.9 L19.5,527.6 L20.8,527.9 L22.1,528.0 L23.4,526.7 L24.7,526.0 L26.0,527.0 L27.3,524.6 L28.6,526.2 L29.9,525.0 L31.2,524.9 L32.5,525.0 L33.8,525.6 L35.1,526.6 L36.4,524.9 L37.7,525.6 L39.0,526.1 L40.3,527.3 L41.6,529.3 L42.9,529.4 L44.2,529.9 L45.5,528.2 L46.8,527.3 L48.1,526.1 L49.4,525.5 L50.7,525.8 L52.0,525.4 L53.3,526.6 L54.6,529.3 L55.9,530.7 L57.2,527.6 L58.5,526.3 L59.8,524.9 L61.1,524.9 L62.4,523.8 L63.7,522.8 L65.0,525.4 L66.3,524.3 L67.6,525.9 L68.9,527.2 L70.2,526.3 L71.5,527.5 L72.8,527.2 L74.1,530.0 L75.4,531.5 L76.7,532.4 L78.0,534.4 L79.3,534.4 L80.6,536.5 L81.9,537.6 L83.2,534.9 L84.5,531.9 L85.8,532.1 L87.1,532.1 L88.4,530.9 L89.7,531.1 L91.0,529.5 L92.3,530.7 L93.6,531.6 L94.9,534.1 L96.2,535.5 L97.5,536.0 L98.8,537.9 L100.1,540.1 L101.4,537.3 L102.7,537.0 L104.0,535.6 L105.3,535.9 L106.6,536.2 L107.9,538.8 L109.2,538.8 L110.5,540.6 L111.8,540.8 L113.1,541.3 L114.4,538.9 L115.7,537.7 L117.0,535.7 L118.3,534.5 L119.6,533.5 L120.9,532.8 L122.2,530.6 L123.5,530.0 L124.8,529.0 L126.1,530.2 L127.4,530.9 L128.7,529.5 L130.0,530.1 L131.3,531.0 L132.6,531.8 L133.9,533.2 L135.2,534.0 L136.5,533.0 L137.8,532.3 L139.1,533.7 L140.4,535.0 L141.7,537.0 L143.0,539.1 L144.3,539.6 L145.6,540.4 L146.9,540.0 L148.2,539.3 L149.5,537.3 L150.8,542.5 L152.1,545.4 L153.4,548.0 L154.7,548.3 L156.0,547.8 L157.3,546.7 L158.6,543.7 L159.9,545.9 L161.2,547.1 L162.5,547.7 L163.8,546.6 L165.1,545.0 L166.4,544.1 L167.7,542.2 L169.0,541.2 L170.3,542.0 L171.6,542.3 L172.9,543.4 L174.2,544.6 L175.5,549.9 L176.8,552.6 L178.1,553.8 L179.4,556.0 L180.7,555.5 L182.0,554.7 L183.3,553.3 L184.6,553.8 L185.9,552.9 L187.2,551.4 L188.5,552.4 L189.8,552.4 L191.1,551.9 L192.4,551.5 L193.7,550.6 L195.0,552.6 L196.3,551.8 L197.6,552.0 L198.9,554.3 L200.2,553.5 L201.5,551.2 L202.8,549.4 L204.1,547.4 L205.4,549.0 L206.7,550.4 L208.0,548.6 L209.3,546.2 L210.6,543.3 L211.9,543.4 L213.2,542.8 L214.5,544.0 L215.8,543.2 L217.1,543.6 L218.4,541.8 L219.7,540.2 L221.0,540.1 L222.3,540.1 L223.6,539.6 L224.9,539.3 L226.2,540.4 L227.5,541.2 L228.8,541.1 L230.1,543.6 L231.4,545.0 L232.7,545.6 L234.0,547.0 L235.3,548.3 L236.6,548.5 L237.9,549.8 L239.2,549.1 L240.5,546.2 L241.8,545.6 L243.1,548.3 L244.4,550.5 L245.7,549.8 L247.0,550.1 L248.3,551.0 L249.6,552.4 L250.9,553.8 L252.2,556.0 L253.5,557.9 L254.8,558.9 L256.1,557.4 L257.4,556.6 L258.7,555.7 L260.0,555.6 L261.3,558.4 L262.6,559.8 L263.9,560.4 L265.2,560.3 L266.5,558.0 L267.8,555.7 L269.1,555.6 L270.4,553.1 L271.7,553.5 L273.0,553.4 L274.3,551.7 L275.6,552.0 L276.9,553.6 L278.2,554.0 L279.5,553.9 L280.8,554.0 L282.1,551.8 L283.4,551.3 L284.7,549.9 L286.0,548.0 L287.3,549.3 L288.6,549.5 L289.9,548.6 L291.2,547.1 L292.5,546.6 L293.8,545.1 L295.1,545.5 L296.4,548.4 L297.7,547.8 L299.0,546.5 L300.3,546.4 L301.6,546.3 L302.9,548.7 L304.2,548.9 L305.5,547.3 L306.8,547.2 L308.1,548.4 L309.4,549.5 L310.7,551.4 L312.0,551.2 L313.3,552.1 L314.6,551.7 L315.9,553.2 L317.2,551.7 L318.5,552.2 L319.8,553.0 L321.1,554.3 L322.4,552.6 L323.7,552.9 L325.0,551.1 L326.3,550.5 L327.6,549.9 L328.9,548.2 L330.2,548.7 L331.5,547.7 L332.8,546.9 L334.1,548.3 L335.4,546.4 L336.7,546.5 L338.0,546.5 L339.3,545.5 L340.6,544.1 L341.9,543.7 L343.2,543.1 L344.5,544.0 L345.8,542.8 L347.1,544.1 L348.4,543.7 L349.7,544.0 L351.0,545.1 L352.3,544.2 L353.6,544.1 L354.9,545.2 L356.2,546.4 L357.5,546.2 L358.8,547.1 L360.1,547.4 L361.4,547.7 L362.7,547.8 L364.0,546.9 L365.3,548.1 L366.6,549.0 L367.9,551.0 L369.2,551.3 L370.5,552.6 L371.8,551.9 L373.1,549.2 L374.4,548.8 L375.7,549.5 L377.0,549.1 L378.3,547.4 L379.6,547.3 L380.9,547.2 L382.2,545.0 L383.5,544.1 L384.8,543.4 L386.1,544.5 L387.4,544.5 L388.7,544.6 L390.0,542.7 L391.3,543.8 L392.6,543.5 L393.9,542.2 L395.2,544.0 L396.5,544.5 L397.8,543.2 L399.1,545.9 L400.4,546.0 L401.7,544.6 L403.0,544.1 L404.3,544.6 L405.6,543.9 L406.9,545.0 L408.2,544.7 L409.5,543.8 L410.8,543.2 L412.1,543.5 L413.4,544.4 L414.7,542.1 L416.0,542.5 L417.3,541.4 L418.6,541.6 L419.9,543.5 L421.2,543.8 L422.5,543.2 L423.8,541.5 L425.1,542.2 L426.4,540.4 L427.7,540.0 L429.0,537.6 L430.3,537.6 L431.6,536.5 L432.9,537.5 L434.2,535.7 L435.5,534.7 L436.8,534.6 L438.1,535.4 L439.4,535.7 L440.7,534.9 L442.0,535.1 L443.3,537.4 L444.6,536.2 L445.9,535.3 L447.2,532.6 L448.5,532.8 L449.8,534.8 L451.1,534.8 L452.4,533.1 L453.7,534.3 L455.0,532.8 L456.3,532.5 L457.6,530.3 L458.9,531.7 L460.2,529.9 L461.5,531.7 L462.8,530.6 L464.1,530.1 L465.4,530.3 L466.7,530.8 L468.0,528.9 L469.3,529.4 L470.6,531.3 L471.9,531.4 L473.2,531.3 L474.5,531.7 L475.8,532.0 L477.1,533.2 L478.4,534.3 L479.7,534.9 L481.0,536.5 L482.3,535.5 L483.6,535.5 L484.9,534.2 L486.2,533.4 L487.5,531.6 L488.8,531.3 L490.1,530.5 L491.4,532.0 L492.7,531.7 L494.0,531.3 L495.3,532.4 L496.6,533.6 L497.9,531.7 L499.2,533.3 L500.5,532.7 L501.8,533.1 L503.1,534.3 L504.4,534.8 L505.7,536.5 L507.0,538.1 L508.3,539.4 L509.6,538.5 L510.9,540.1 L512.2,540.2 L513.5,539.4 L514.8,538.0 L516.1,537.0 L517.4,536.0 L518.7,535.7 L520.0,535.3 L521.3,537.5 L522.6,537.1 L523.9,537.7 L525.2,538.6 L526.5,541.4 L527.8,542.7 L529.1,543.5 L530.4,543.9 L531.7,542.0 L533.0,539.8 L534.3,537.9 L535.6,536.4 L536.9,536.2 L538.2,534.8 L539.5,535.3 L540.8,534.2 L542.1,532.4 L543.4,531.1 L544.7,532.2 L546.0,530.5 L547.3,530.6 L548.6,529.8 L549.9,530.4 L551.2,530.4 L552.5,530.2 L553.8,529.2 L555.1,529.6 L556.4,528.2 L557.7,528.7 L559.0,528.1 L560.3,528.1 L561.6,526.3 L562.9,525.2 L564.2,525.6 L565.5,525.1 L566.8,525.1 L568.1,524.2 L569.4,524.9 L570.7,524.9 L572.0,524.4 L573.3,523.8 L574.6,522.8 L575.9,522.9 L577.2,524.6 L578.5,522.9 L579.8,524.5 L581.1,524.4 L582.4,522.9 L583.7,524.6 L585.0,524.6 L586.3,522.9 L587.6,521.4 L588.9,520.9 L590.2,518.9 L591.5,519.4 L592.8,519.1 L594.1,519.7 L595.4,519.3 L596.7,518.6 L598.0,517.4 L599.3,517.5 L600.6,516.4 L601.9,516.4 L603.2,515.8 L604.5,515.7 L605.8,515.9 L607.1,516.3 L608.4,515.5 L609.7,516.1 L611.0,514.3 L612.3,513.5 L613.6,513.3 L614.9,513.2 L616.2,512.5 L617.5,511.2 L618.8,512.8 L620.1,512.5 L621.4,511.8 L622.7,511.7 L624.0,511.7 L625.3,510.1 L626.6,511.4 L627.9,509.8 L629.2,509.0 L630.5,509.0 L631.8,509.7 L633.1,508.0 L634.4,509.2 L635.7,510.0 L637.0,509.1 L638.3,509.9 L639.6,511.5 L640.9,511.7 L642.2,511.6 L643.5,512.4 L644.8,513.6 L646.1,513.4 L647.4,514.6 L648.7,515.9 L650.0,516.9 L651.3,514.9 L652.6,514.5 L653.9,512.5 L655.2,512.1 L656.5,512.1 L657.8,512.2 L659.1,511.4 L660.4,510.5 L661.7,509.3 L663.0,509.5 L664.3,508.8 L665.6,507.9 L666.9,506.3 L668.2,507.5 L669.5,505.7 L670.8,507.2 L672.1,507.6 L673.4,506.1 L674.7,507.8 L676.0,509.4 L677.3,510.0 L678.6,507.7 L679.9,506.2 L681.2,505.2 L682.5,506.3 L683.8,504.0 L685.1,504.3 L686.4,502.7 L687.7,503.0 L689.0,503.2 L690.3,500.7 L691.6,502.5 L692.9,501.9 L694.2,503.0 L695.5,502.7 L696.8,501.6 L698.1,503.1 L699.4,501.1 L700.7,498.9 L702.0,497.6 L703.3,497.6 L704.6,496.4 L705.9,495.3 L707.2,494.6 L708.5,494.9 L709.8,495.4 L711.1,498.2 L712.4,497.9 L713.7,500.4 L715.0,502.1 L716.3,502.6 L717.6,504.1 L718.9,503.0 L720.2,500.8 L721.5,503.4 L722.8,506.8 L724.1,509.6 L725.4,509.9 L726.7,506.8 L728.0,504.0 L729.3,502.3 L730.6,500.3 L731.9,498.4 L733.2,497.2 L734.5,498.2 L735.8,496.5 L737.1,497.5 L738.4,495.8 L739.7,495.9 L741.0,496.4 L742.3,495.7 L743.6,497.7 L744.9,500.9 L746.2,502.7 L747.5,504.1 L748.8,502.3 L750.1,501.5 L751.4,500.2 L752.7,498.0 L754.0,497.0 L755.3,494.7 L756.6,495.5 L757.9,494.3 L759.2,494.4 L760.5,494.1 L761.8,493.2 L763.1,492.6 L764.0,493.6 L764,562 L0,562 Z" fill="url(#gsel)" clip-path="url(#cpsel)"/>
<path d="M0.0,537.0 L1.3,536.0 L2.6,536.5 L3.9,534.8 L5.2,536.0 L6.5,535.8 L7.8,534.4 L9.1,533.7 L10.4,530.9 L11.7,531.0 L13.0,529.7 L14.3,529.3 L15.6,529.7 L16.9,530.2 L18.2,527.9 L19.5,527.6 L20.8,527.9 L22.1,528.0 L23.4,526.7 L24.7,526.0 L26.0,527.0 L27.3,524.6 L28.6,526.2 L29.9,525.0 L31.2,524.9 L32.5,525.0 L33.8,525.6 L35.1,526.6 L36.4,524.9 L37.7,525.6 L39.0,526.1 L40.3,527.3 L41.6,529.3 L42.9,529.4 L44.2,529.9 L45.5,528.2 L46.8,527.3 L48.1,526.1 L49.4,525.5 L50.7,525.8 L52.0,525.4 L53.3,526.6 L54.6,529.3 L55.9,530.7 L57.2,527.6 L58.5,526.3 L59.8,524.9 L61.1,524.9 L62.4,523.8 L63.7,522.8 L65.0,525.4 L66.3,524.3 L67.6,525.9 L68.9,527.2 L70.2,526.3 L71.5,527.5 L72.8,527.2 L74.1,530.0 L75.4,531.5 L76.7,532.4 L78.0,534.4 L79.3,534.4 L80.6,536.5 L81.9,537.6 L83.2,534.9 L84.5,531.9 L85.8,532.1 L87.1,532.1 L88.4,530.9 L89.7,531.1 L91.0,529.5 L92.3,530.7 L93.6,531.6 L94.9,534.1 L96.2,535.5 L97.5,536.0 L98.8,537.9 L100.1,540.1 L101.4,537.3 L102.7,537.0 L104.0,535.6 L105.3,535.9 L106.6,536.2 L107.9,538.8 L109.2,538.8 L110.5,540.6 L111.8,540.8 L113.1,541.3 L114.4,538.9 L115.7,537.7 L117.0,535.7 L118.3,534.5 L119.6,533.5 L120.9,532.8 L122.2,530.6 L123.5,530.0 L124.8,529.0 L126.1,530.2 L127.4,530.9 L128.7,529.5 L130.0,530.1 L131.3,531.0 L132.6,531.8 L133.9,533.2 L135.2,534.0 L136.5,533.0 L137.8,532.3 L139.1,533.7 L140.4,535.0 L141.7,537.0 L143.0,539.1 L144.3,539.6 L145.6,540.4 L146.9,540.0 L148.2,539.3 L149.5,537.3 L150.8,542.5 L152.1,545.4 L153.4,548.0 L154.7,548.3 L156.0,547.8 L157.3,546.7 L158.6,543.7 L159.9,545.9 L161.2,547.1 L162.5,547.7 L163.8,546.6 L165.1,545.0 L166.4,544.1 L167.7,542.2 L169.0,541.2 L170.3,542.0 L171.6,542.3 L172.9,543.4 L174.2,544.6 L175.5,549.9 L176.8,552.6 L178.1,553.8 L179.4,556.0 L180.7,555.5 L182.0,554.7 L183.3,553.3 L184.6,553.8 L185.9,552.9 L187.2,551.4 L188.5,552.4 L189.8,552.4 L191.1,551.9 L192.4,551.5 L193.7,550.6 L195.0,552.6 L196.3,551.8 L197.6,552.0 L198.9,554.3 L200.2,553.5 L201.5,551.2 L202.8,549.4 L204.1,547.4 L205.4,549.0 L206.7,550.4 L208.0,548.6 L209.3,546.2 L210.6,543.3 L211.9,543.4 L213.2,542.8 L214.5,544.0 L215.8,543.2 L217.1,543.6 L218.4,541.8 L219.7,540.2 L221.0,540.1 L222.3,540.1 L223.6,539.6 L224.9,539.3 L226.2,540.4 L227.5,541.2 L228.8,541.1 L230.1,543.6 L231.4,545.0 L232.7,545.6 L234.0,547.0 L235.3,548.3 L236.6,548.5 L237.9,549.8 L239.2,549.1 L240.5,546.2 L241.8,545.6 L243.1,548.3 L244.4,550.5 L245.7,549.8 L247.0,550.1 L248.3,551.0 L249.6,552.4 L250.9,553.8 L252.2,556.0 L253.5,557.9 L254.8,558.9 L256.1,557.4 L257.4,556.6 L258.7,555.7 L260.0,555.6 L261.3,558.4 L262.6,559.8 L263.9,560.4 L265.2,560.3 L266.5,558.0 L267.8,555.7 L269.1,555.6 L270.4,553.1 L271.7,553.5 L273.0,553.4 L274.3,551.7 L275.6,552.0 L276.9,553.6 L278.2,554.0 L279.5,553.9 L280.8,554.0 L282.1,551.8 L283.4,551.3 L284.7,549.9 L286.0,548.0 L287.3,549.3 L288.6,549.5 L289.9,548.6 L291.2,547.1 L292.5,546.6 L293.8,545.1 L295.1,545.5 L296.4,548.4 L297.7,547.8 L299.0,546.5 L300.3,546.4 L301.6,546.3 L302.9,548.7 L304.2,548.9 L305.5,547.3 L306.8,547.2 L308.1,548.4 L309.4,549.5 L310.7,551.4 L312.0,551.2 L313.3,552.1 L314.6,551.7 L315.9,553.2 L317.2,551.7 L318.5,552.2 L319.8,553.0 L321.1,554.3 L322.4,552.6 L323.7,552.9 L325.0,551.1 L326.3,550.5 L327.6,549.9 L328.9,548.2 L330.2,548.7 L331.5,547.7 L332.8,546.9 L334.1,548.3 L335.4,546.4 L336.7,546.5 L338.0,546.5 L339.3,545.5 L340.6,544.1 L341.9,543.7 L343.2,543.1 L344.5,544.0 L345.8,542.8 L347.1,544.1 L348.4,543.7 L349.7,544.0 L351.0,545.1 L352.3,544.2 L353.6,544.1 L354.9,545.2 L356.2,546.4 L357.5,546.2 L358.8,547.1 L360.1,547.4 L361.4,547.7 L362.7,547.8 L364.0,546.9 L365.3,548.1 L366.6,549.0 L367.9,551.0 L369.2,551.3 L370.5,552.6 L371.8,551.9 L373.1,549.2 L374.4,548.8 L375.7,549.5 L377.0,549.1 L378.3,547.4 L379.6,547.3 L380.9,547.2 L382.2,545.0 L383.5,544.1 L384.8,543.4 L386.1,544.5 L387.4,544.5 L388.7,544.6 L390.0,542.7 L391.3,543.8 L392.6,543.5 L393.9,542.2 L395.2,544.0 L396.5,544.5 L397.8,543.2 L399.1,545.9 L400.4,546.0 L401.7,544.6 L403.0,544.1 L404.3,544.6 L405.6,543.9 L406.9,545.0 L408.2,544.7 L409.5,543.8 L410.8,543.2 L412.1,543.5 L413.4,544.4 L414.7,542.1 L416.0,542.5 L417.3,541.4 L418.6,541.6 L419.9,543.5 L421.2,543.8 L422.5,543.2 L423.8,541.5 L425.1,542.2 L426.4,540.4 L427.7,540.0 L429.0,537.6 L430.3,537.6 L431.6,536.5 L432.9,537.5 L434.2,535.7 L435.5,534.7 L436.8,534.6 L438.1,535.4 L439.4,535.7 L440.7,534.9 L442.0,535.1 L443.3,537.4 L444.6,536.2 L445.9,535.3 L447.2,532.6 L448.5,532.8 L449.8,534.8 L451.1,534.8 L452.4,533.1 L453.7,534.3 L455.0,532.8 L456.3,532.5 L457.6,530.3 L458.9,531.7 L460.2,529.9 L461.5,531.7 L462.8,530.6 L464.1,530.1 L465.4,530.3 L466.7,530.8 L468.0,528.9 L469.3,529.4 L470.6,531.3 L471.9,531.4 L473.2,531.3 L474.5,531.7 L475.8,532.0 L477.1,533.2 L478.4,534.3 L479.7,534.9 L481.0,536.5 L482.3,535.5 L483.6,535.5 L484.9,534.2 L486.2,533.4 L487.5,531.6 L488.8,531.3 L490.1,530.5 L491.4,532.0 L492.7,531.7 L494.0,531.3 L495.3,532.4 L496.6,533.6 L497.9,531.7 L499.2,533.3 L500.5,532.7 L501.8,533.1 L503.1,534.3 L504.4,534.8 L505.7,536.5 L507.0,538.1 L508.3,539.4 L509.6,538.5 L510.9,540.1 L512.2,540.2 L513.5,539.4 L514.8,538.0 L516.1,537.0 L517.4,536.0 L518.7,535.7 L520.0,535.3 L521.3,537.5 L522.6,537.1 L523.9,537.7 L525.2,538.6 L526.5,541.4 L527.8,542.7 L529.1,543.5 L530.4,543.9 L531.7,542.0 L533.0,539.8 L534.3,537.9 L535.6,536.4 L536.9,536.2 L538.2,534.8 L539.5,535.3 L540.8,534.2 L542.1,532.4 L543.4,531.1 L544.7,532.2 L546.0,530.5 L547.3,530.6 L548.6,529.8 L549.9,530.4 L551.2,530.4 L552.5,530.2 L553.8,529.2 L555.1,529.6 L556.4,528.2 L557.7,528.7 L559.0,528.1 L560.3,528.1 L561.6,526.3 L562.9,525.2 L564.2,525.6 L565.5,525.1 L566.8,525.1 L568.1,524.2 L569.4,524.9 L570.7,524.9 L572.0,524.4 L573.3,523.8 L574.6,522.8 L575.9,522.9 L577.2,524.6 L578.5,522.9 L579.8,524.5 L581.1,524.4 L582.4,522.9 L583.7,524.6 L585.0,524.6 L586.3,522.9 L587.6,521.4 L588.9,520.9 L590.2,518.9 L591.5,519.4 L592.8,519.1 L594.1,519.7 L595.4,519.3 L596.7,518.6 L598.0,517.4 L599.3,517.5 L600.6,516.4 L601.9,516.4 L603.2,515.8 L604.5,515.7 L605.8,515.9 L607.1,516.3 L608.4,515.5 L609.7,516.1 L611.0,514.3 L612.3,513.5 L613.6,513.3 L614.9,513.2 L616.2,512.5 L617.5,511.2 L618.8,512.8 L620.1,512.5 L621.4,511.8 L622.7,511.7 L624.0,511.7 L625.3,510.1 L626.6,511.4 L627.9,509.8 L629.2,509.0 L630.5,509.0 L631.8,509.7 L633.1,508.0 L634.4,509.2 L635.7,510.0 L637.0,509.1 L638.3,509.9 L639.6,511.5 L640.9,511.7 L642.2,511.6 L643.5,512.4 L644.8,513.6 L646.1,513.4 L647.4,514.6 L648.7,515.9 L650.0,516.9 L651.3,514.9 L652.6,514.5 L653.9,512.5 L655.2,512.1 L656.5,512.1 L657.8,512.2 L659.1,511.4 L660.4,510.5 L661.7,509.3 L663.0,509.5 L664.3,508.8 L665.6,507.9 L666.9,506.3 L668.2,507.5 L669.5,505.7 L670.8,507.2 L672.1,507.6 L673.4,506.1 L674.7,507.8 L676.0,509.4 L677.3,510.0 L678.6,507.7 L679.9,506.2 L681.2,505.2 L682.5,506.3 L683.8,504.0 L685.1,504.3 L686.4,502.7 L687.7,503.0 L689.0,503.2 L690.3,500.7 L691.6,502.5 L692.9,501.9 L694.2,503.0 L695.5,502.7 L696.8,501.6 L698.1,503.1 L699.4,501.1 L700.7,498.9 L702.0,497.6 L703.3,497.6 L704.6,496.4 L705.9,495.3 L707.2,494.6 L708.5,494.9 L709.8,495.4 L711.1,498.2 L712.4,497.9 L713.7,500.4 L715.0,502.1 L716.3,502.6 L717.6,504.1 L718.9,503.0 L720.2,500.8 L721.5,503.4 L722.8,506.8 L724.1,509.6 L725.4,509.9 L726.7,506.8 L728.0,504.0 L729.3,502.3 L730.6,500.3 L731.9,498.4 L733.2,497.2 L734.5,498.2 L735.8,496.5 L737.1,497.5 L738.4,495.8 L739.7,495.9 L741.0,496.4 L742.3,495.7 L743.6,497.7 L744.9,500.9 L746.2,502.7 L747.5,504.1 L748.8,502.3 L750.1,501.5 L751.4,500.2 L752.7,498.0 L754.0,497.0 L755.3,494.7 L756.6,495.5 L757.9,494.3 L759.2,494.4 L760.5,494.1 L761.8,493.2 L763.1,492.6 L764.0,493.6" fill="none" stroke="#ffffff" stroke-width="1.3" stroke-linejoin="round"/>
<g shape-rendering="crispEdges">
<rect x="0" y="492" width="1" height="69" fill="#bdbdbd"/>
<rect x="64" y="492" width="1" height="69" fill="#9a9a9a"/>
<rect x="320" y="492" width="1" height="69" fill="#9a9a9a"/>
<rect x="575" y="560.6" width="189.2" height="1.4" fill="#2b2b2b" shape-rendering="auto"/>
<rect x="573.8" y="492" width="1.2" height="68.6" fill="#b0b0b0" shape-rendering="auto"/>
<rect x="575" y="516" width="1" height="21" fill="#f0f0f0"/>
<rect x="577" y="516" width="1" height="21" fill="#f0f0f0"/>
<rect x="579" y="516" width="1" height="21" fill="#f0f0f0"/>
<rect x="758" y="516" width="1" height="21" fill="#f0f0f0"/>
<rect x="760" y="516" width="1" height="21" fill="#f0f0f0"/>
<rect x="762" y="516" width="1" height="21" fill="#f0f0f0"/>
<rect x="6" y="498" width="66.7" height="20.5" fill="#2b2b2b" shape-rendering="auto"/>
<rect x="74.2" y="498" width="66.8" height="20.5" fill="#2b2b2b" shape-rendering="auto"/>
</g>
<g font-size="12px" fill="#d2d2d2">
<text x="12.5" y="513.6" textLength="53" lengthAdjust="spacingAndGlyphs">27/12/23</text>
<text x="80.8" y="513.6" textLength="53" lengthAdjust="spacingAndGlyphs">01/10/24</text>
<text x="4.3" y="556.8">2021</text>
<text x="69.2" y="556.8">2022</text>
<text x="325.4" y="556.8">2023</text>
<text x="579" y="556.8">2024</text>
</g>
</svg></body></html>
